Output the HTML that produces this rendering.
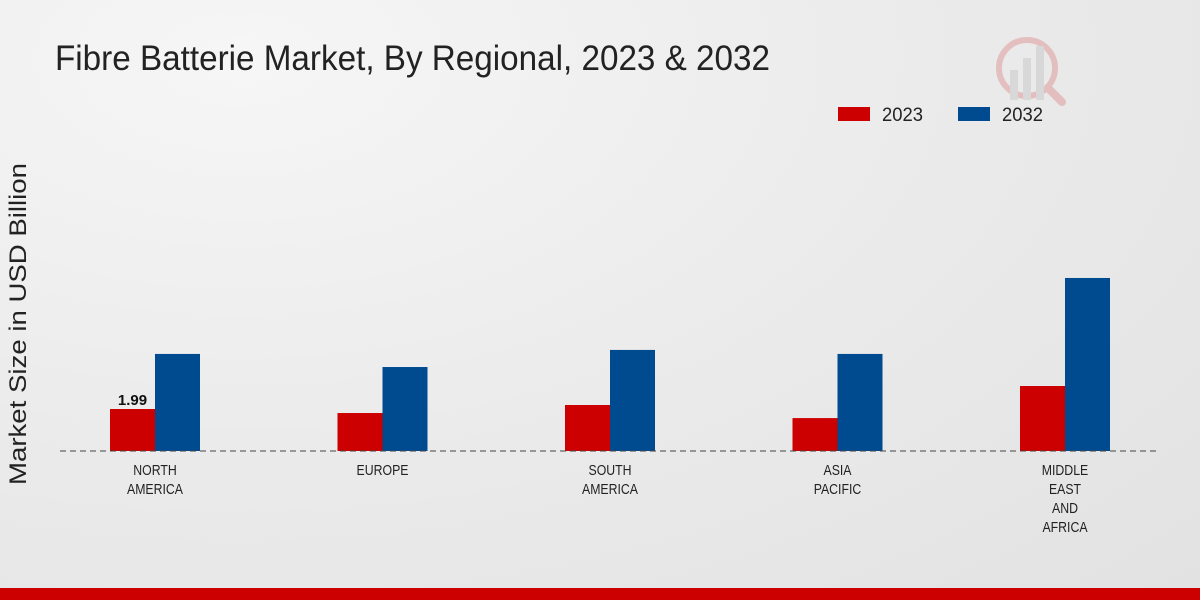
<!DOCTYPE html>
<html><head><meta charset="utf-8"><style>
html,body{margin:0;padding:0;}
body{width:1200px;height:600px;overflow:hidden;background:radial-gradient(ellipse at 20% 10%,#f6f6f6 0%,#ebebeb 50%,#e2e2e2 100%);font-family:"Liberation Sans",sans-serif;position:relative;}
</style></head><body>
<svg id="chart" width="1200" height="600" style="position:absolute;left:0;top:0">
<text x="55" y="70" font-size="35" fill="#222" textLength="715" lengthAdjust="spacingAndGlyphs">Fibre Batterie Market, By Regional, 2023 &amp; 2032</text>
<text transform="translate(26,324) rotate(-90)" text-anchor="middle" font-size="24" fill="#222" textLength="322" lengthAdjust="spacingAndGlyphs">Market Size in USD Billion</text>
<g>
<rect x="838" y="107" width="32" height="14" fill="#cc0000"/>
<text x="882" y="121" font-size="19" fill="#222" textLength="41" lengthAdjust="spacingAndGlyphs">2023</text>
<rect x="958" y="107" width="32" height="14" fill="#004a8f"/>
<text x="1002" y="121" font-size="19" fill="#222" textLength="41" lengthAdjust="spacingAndGlyphs">2032</text>
</g>
<g opacity="0.18">
<circle cx="1027" cy="68" r="28" fill="none" stroke="#cc0000" stroke-width="6"/>
<rect x="1010" y="70" width="8" height="30" fill="#888"/><rect x="1023" y="58" width="8" height="42" fill="#888"/><rect x="1036" y="46" width="8" height="54" fill="#888"/>
<line x1="1048" y1="88" x2="1062" y2="102" stroke="#cc0000" stroke-width="8" stroke-linecap="round"/>
</g>
<g id="bars"></g>
<line x1="60" y1="451" x2="1160" y2="451" stroke="#444" stroke-width="1" stroke-dasharray="6,4"/>
<g id="labels"></g>
<rect x="0" y="588" width="1200" height="12" fill="#cc0000"/>
</svg>
<script>
const categories=[["NORTH","AMERICA"],["EUROPE"],["SOUTH","AMERICA"],["ASIA","PACIFIC"],["MIDDLE","EAST","AND","AFRICA"]];
const values2023=[1.99,1.8,2.18,1.56,3.08];
const values2032=[4.6,3.98,4.79,4.6,8.2];
const valueLabels=["1.99","","","",""];
const NS="http://www.w3.org/2000/svg";
const base=451,scale=21.1,x0=155,step=227.5,bw=45;
const y=v=>base-v*scale;
const xc=i=>x0+i*step;
const bars=document.getElementById('bars'),labels=document.getElementById('labels');
function mk(t,a){const e=document.createElementNS(NS,t);for(const k in a)e.setAttribute(k,a[k]);return e;}
categories.forEach((c,i)=>{
  const r1=mk('rect',{x:xc(i)-bw,y:y(values2023[i]),width:bw,height:values2023[i]*scale,fill:'#cc0000'});
  
  
  bars.appendChild(r1);
  const r2=mk('rect',{x:xc(i),y:y(values2032[i]),width:bw,height:values2032[i]*scale,fill:'#004a8f'});
  
  
  bars.appendChild(r2);
  if(valueLabels[i]){
    const t=mk('text',{x:xc(i)-bw/2,y:y(values2023[i])-4,'text-anchor':'middle','font-size':15,'font-weight':'bold',fill:'#111'});
    t.textContent=valueLabels[i];
    
    
    bars.appendChild(t);
  }
  c.forEach((line,j)=>{
    const s=mk('text',{x:xc(i),y:475+j*19,'text-anchor':'middle','font-size':15,fill:'#222'});
    s.textContent=line;
    
    
    labels.appendChild(s);
    const w=s.getComputedTextLength();
    s.setAttribute('textLength',(w*0.82).toFixed(1));
    s.setAttribute('lengthAdjust','spacingAndGlyphs');
  });
});
</script>
</body></html>
